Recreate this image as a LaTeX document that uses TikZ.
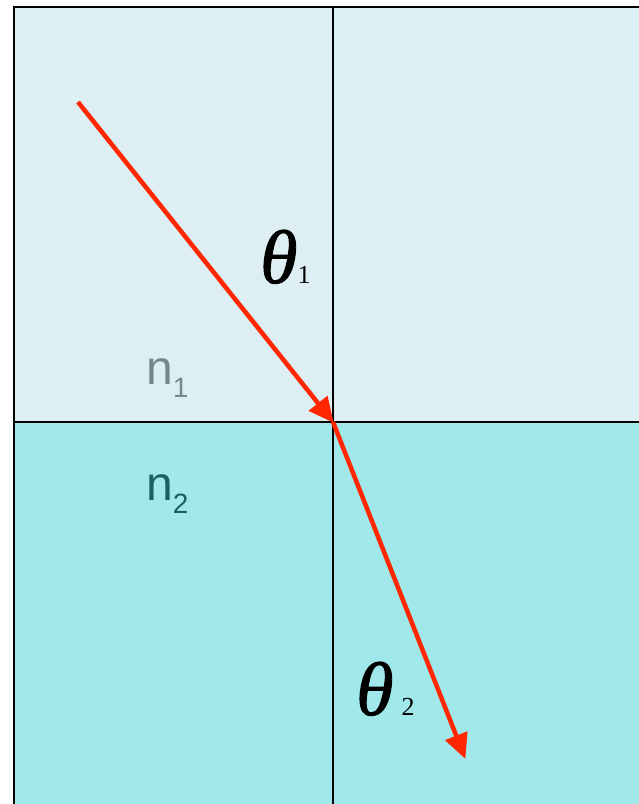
\documentclass[tikz,border=0pt]{standalone}
\usepackage{fontspec}
\setmainfont{Liberation Serif}
\newfontfamily\labelfont{Liberation Sans}
\newfontfamily\thetafont{Liberation Serif}[FakeBold=1.2]
\usetikzlibrary{arrows.meta}
\definecolor{topwater}{HTML}{DDEFF2}
\definecolor{botwater}{HTML}{A0E8EA}
\definecolor{rayred}{HTML}{FF2600}
\definecolor{nonegray}{HTML}{778888}
\definecolor{ntwoteal}{HTML}{1D5F5F}
\tikzset{ang/.style={anchor=base west, inner sep=0pt, font=\thetafont\fontsize{76}{76}\selectfont\itshape},
  idx/.style={anchor=base west, inner sep=0pt, font=\labelfont\fontsize{48}{48}\selectfont}}

\begin{document}
\begin{tikzpicture}[x=1pt, y=-1pt, >={Triangle[length=25pt, width=23pt]},
  ray/.style={->, rayred, line width=4.5pt, shorten >=-1pt}]
  \useasboundingbox (0,0) rectangle (639,804);
  % the two media
  \fill[topwater] (14,7) rectangle (639,422);
  \fill[botwater] (14,422) rectangle (639,804);
  \draw[line width=2.5pt] (14,804) -- (14,7) -- (639,7);
  \draw[line width=2pt] (14,422) -- (639,422);
  \draw[line width=2pt] (333,7) -- (333,804);
  % ray points
  \coordinate (src) at (78,102);
  \coordinate (hit) at (333,422);
  \coordinate (dst) at (465,758);
  \draw[ray] (src) -- (hit);
  \draw[ray] (hit) -- (dst);
  % labels
  \node[ang] (t1) at (260,283) {θ\rmfamily\fontsize{26}{26}\selectfont\upshape 1};
  \node[ang] (t2) at (356,715) {θ\rmfamily\fontsize{26}{26}\selectfont\upshape\hspace{8pt}2};
  \node[idx, text=nonegray] (n1) at (146,384) {n\fontsize{28}{28}\selectfont\raisebox{-13pt}{1}};
  \node[idx, text=ntwoteal] (n2) at (146,500) {n\fontsize{28}{28}\selectfont\raisebox{-13pt}{2}};
\end{tikzpicture}
\end{document}
